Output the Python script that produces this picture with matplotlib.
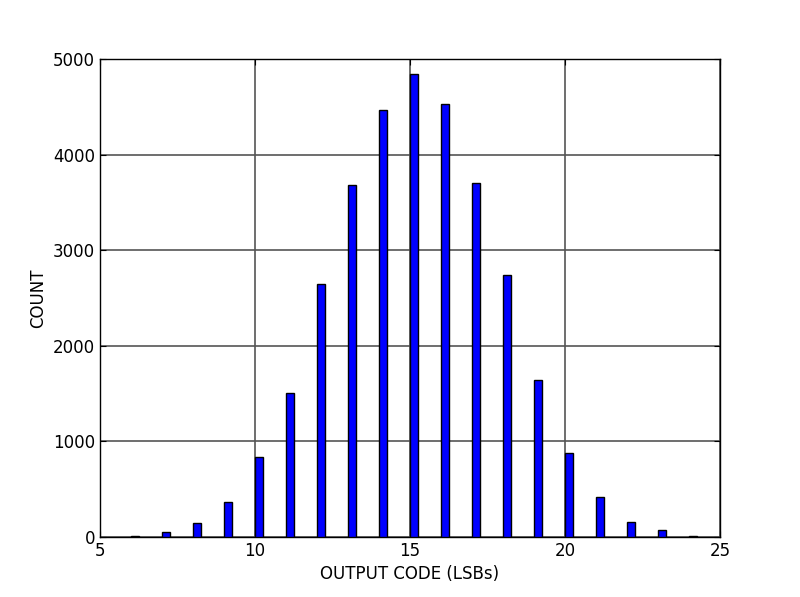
import numpy as np
import matplotlib
matplotlib.use("Agg")
import matplotlib.pyplot as plt

codes = [6, 7, 8, 9, 10, 11, 12, 13, 14, 15, 16, 17, 18, 19, 20, 21, 22, 23, 24]
counts = [8, 55, 150, 370, 835, 1505, 2645, 3680, 4466, 4843, 4532, 3705, 2740, 1645, 875, 420, 160, 76, 8]

fig = plt.figure(figsize=(8, 5.97), dpi=100)
ax = fig.add_axes([0.125, 0.1005, 0.775, 0.8005])

ax.bar(codes, counts, width=0.25, align="edge", color="#0000ff",
       edgecolor="black", linewidth=1.0, zorder=3)

ax.set_xlim(5, 25)
ax.set_ylim(0, 5000)
ax.set_xticks([5, 10, 15, 20, 25])
ax.set_yticks([0, 1000, 2000, 3000, 4000, 5000])
ax.grid(True, color="#555555", linestyle="-", linewidth=1.2, zorder=0)
ax.set_axisbelow(True)
ax.tick_params(direction="in", length=4, top=True, right=True, labelsize=12)
for s in ax.spines.values():
    s.set_linewidth(1.0)

ax.set_xlabel("OUTPUT CODE (LSBs)", fontsize=12)
ax.set_ylabel("COUNT", fontsize=12)

fig.savefig("out.png", dpi=100)
